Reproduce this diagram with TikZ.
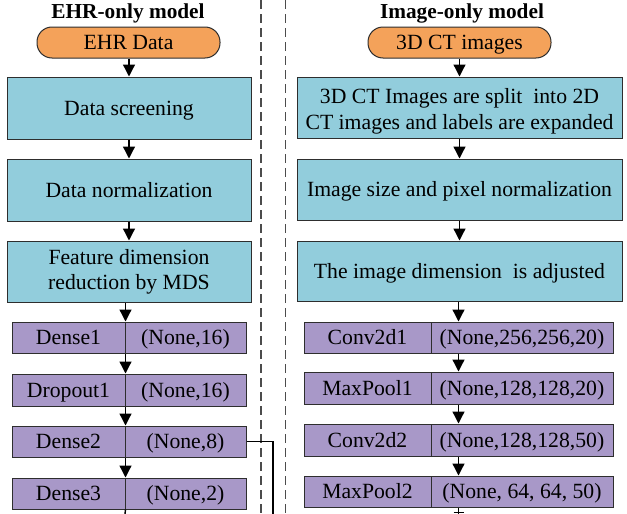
\documentclass[tikz,border=0pt]{standalone}
\usepackage{fontspec}
\setmainfont{Liberation Serif}
\usetikzlibrary{arrows.meta}
\definecolor{pillc}{HTML}{F4A25A}
\definecolor{bluec}{HTML}{92CDDC}
\definecolor{purpc}{HTML}{A898C8}
\definecolor{edgec}{HTML}{2E2E2E}
\tikzset{
  base/.style={draw=edgec, line width=1pt, inner sep=0pt, align=center,
    font=\fontsize{21.7}{25}\selectfont, text=black},
  oneline/.style={text height=18.5pt, text depth=4.5pt},
  pillbox/.style={base, oneline, fill=pillc, rounded corners=15pt, minimum width=183, minimum height=31},
  bluebox/.style={base, fill=bluec, minimum height=62},
  cellbox/.style={base, oneline, fill=purpc, minimum height=31},
  titlenode/.style={inner sep=0pt, font=\fontsize{21.3}{25}\selectfont\bfseries},
  flow/.style={line width=1.3pt, -{Triangle[width=12pt,length=12pt]}},
  plainline/.style={line width=1.4pt},
  divider/.style={draw=black!70, line width=1.1pt, dash pattern=on 9pt off 5pt}
}
\begin{document}
\begin{tikzpicture}[x=1pt,y=-1pt]
\useasboundingbox (0,0) rectangle (627,514);
\fill[white] (0,0) rectangle (627,514);

% dashed separators
\draw[divider] (261,0) -- (261,514);
\draw[divider] (285.5,0) -- (285.5,514);

% ---------------- left column ----------------
\node[titlenode] (t1) at (128,13) {EHR-only model};
\node[pillbox] (ehr) at (128.5,42.5) {EHR Data};
\node[bluebox, oneline, minimum width=244] (s1) at (129,108) {Data screening};
\node[bluebox, oneline, minimum width=244] (s2) at (129,190) {Data normalization};
\node[bluebox, minimum width=244, minimum height=61] (s3) at (129,271.5) {Feature dimension\\reduction by MDS};

\node[cellbox, minimum width=113] (d1l) at (68.5,337.5) {Dense1};
\node[cellbox, minimum width=121] (d1r) at (185.5,337.5) {(None,16)};
\node[cellbox, minimum width=113, minimum height=32] (d2l) at (68.5,390) {Dropout1};
\node[cellbox, minimum width=121, minimum height=32] (d2r) at (185.5,390) {(None,16)};
\node[cellbox, minimum width=113] (d3l) at (68.5,441.5) {Dense2};
\node[cellbox, minimum width=121] (d3r) at (185.5,441.5) {(None,8)};
\node[cellbox, minimum width=113] (d4l) at (68.5,493.5) {Dense3};
\node[cellbox, minimum width=121] (d4r) at (185.5,493.5) {(None,2)};

\draw[flow] (ehr.south -| s1.north) -- (s1.north);
\draw[flow] (s1.south) -- (s2.north);
\draw[flow] (s2.south) -- (s3.north);
\draw[flow] (s3.south -| d1l.east) -- (d1l.north east);
\draw[flow] (d1l.south east) -- (d2l.north east);
\draw[flow] (d2l.south east) -- (d3l.north east);
\draw[flow] (d3l.south east) -- (d4l.north east);
\coordinate (lbot) at (125,514);
\draw[plainline] (d4l.south east) -- (lbot);
\coordinate (tap) at (273,514);
\draw[plainline] (d3r.east) -| (tap);

% ---------------- right column ----------------
\node[titlenode] (t2) at (462,13) {Image-only model};
\node[pillbox] (ct) at (459.5,42.5) {3D CT images};
\node[bluebox, align=none, minimum width=325, minimum height=61] (r1) at (459.5,107.5)
  {\raisebox{-4pt}[\height][\depth]{\begin{tabular}{@{}c@{}}3D CT Images are split~ into 2D\\[1.5pt]CT images and labels are expanded\end{tabular}}};
\node[bluebox, oneline, minimum width=325, minimum height=61] (r2) at (459.5,189.5) {Image size and pixel normalization};
\node[bluebox, oneline, minimum width=325, minimum height=60] (r3) at (459.5,271) {The image dimension~ is adjusted};

\node[cellbox, minimum width=127] (c1l) at (367.5,337.5) {Conv2d1};
\node[cellbox, minimum width=182] (c1r) at (522,337.5) {(None,256,256,20)};
\node[cellbox, minimum width=127, minimum height=32] (c2l) at (367.5,388) {MaxPool1};
\node[cellbox, minimum width=182, minimum height=32] (c2r) at (522,388) {(None,128,128,20)};
\node[cellbox, minimum width=127, minimum height=32] (c3l) at (367.5,440) {Conv2d2};
\node[cellbox, minimum width=182, minimum height=32] (c3r) at (522,440) {(None,128,128,50)};
\node[cellbox, minimum width=127] (c4l) at (367.5,491.5) {MaxPool2};
\node[cellbox, minimum width=182] (c4r) at (522,491.5) {(None, 64, 64, 50)};

\coordinate (ax) at (458.5,0);
\draw[flow] (ct.south -| r1.north) -- (r1.north);
\draw[flow] (r1.south) -- (r2.north);
\draw[flow] (r2.south) -- (r3.north);
\draw[flow] (r3.south -| ax) -- (c1r.north -| ax);
\draw[flow] (c1r.south -| ax) -- (c2r.north -| ax);
\draw[flow] (c2r.south -| ax) -- (c3r.north -| ax);
\draw[flow] (c3r.south -| ax) -- (c4r.north -| ax);
\coordinate (rbot) at (458.5,514);
\draw[plainline] (c4r.south -| ax) -- (rbot);
\coordinate (tickl) at (453.5,512.5);
\coordinate (tickr) at (463.5,512.5);
\draw[line width=1pt] (tickl) -- (tickr);
\end{tikzpicture}
\end{document}
